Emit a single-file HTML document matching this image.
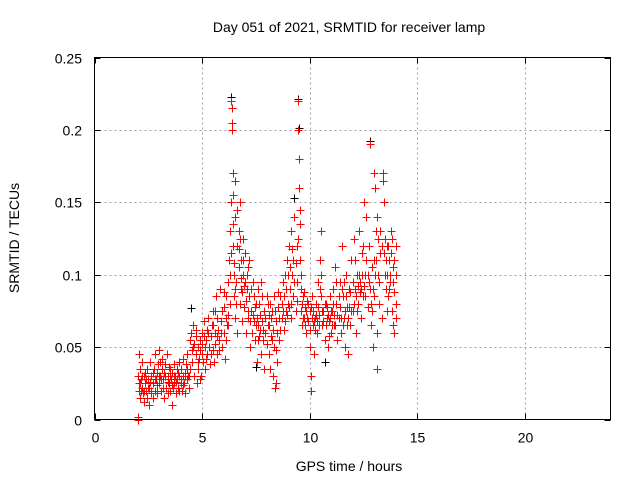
<!DOCTYPE html>
<html><head><meta charset="utf-8"><style>
body{margin:0;background:#fff;width:640px;height:480px;overflow:hidden}
svg{display:block;font-family:"Liberation Sans",sans-serif;font-size:14px}
</style></head><body>
<svg id="chart" width="640" height="480">
<text x="349" y="32" text-anchor="middle">Day 051 of 2021, SRMTID for receiver lamp</text>
<text x="349" y="471" text-anchor="middle">GPS time / hours</text>
<text transform="translate(19,238) rotate(-90)" text-anchor="middle">SRMTID / TECUs</text>
<g id="grid"></g>
<g id="ticks"></g>
<g id="black"></g>
<g id="red"></g>
<rect x="94.5" y="57.5" width="516" height="362" fill="none" stroke="#000"/>
</svg>
<script>
const xTicks=[0,5,10,15,20];
const yTicks=[0,0.05,0.1,0.15,0.2,0.25];
const yTickLabels=["0","0.05","0.1","0.15","0.2","0.25"];
const redT=[2.0,2.0,2.02,2.05,2.05,2.08,2.1,2.12,2.15,2.2,2.22,2.25,2.3,2.32,2.35,2.4,2.42,2.45,2.5,2.52,2.55,2.6,2.62,2.65,2.7,2.72,2.75,2.8,2.82,2.85,2.9,2.92,2.95,3.0,3.02,3.05,3.1,3.12,3.15,3.2,3.22,3.25,3.3,3.32,3.35,3.4,3.42,3.45,3.5,3.52,3.55,3.6,3.62,3.65,3.7,3.72,3.75,3.8,3.82,3.85,3.9,3.92,3.95,4.0,4.02,4.05,4.1,4.12,4.15,4.2,4.22,4.25,4.3,4.32,4.35,4.4,4.42,4.45,4.5,4.52,4.55,4.6,4.62,4.65,4.7,4.72,4.75,4.8,4.82,4.85,4.9,4.92,4.95,5.0,5.02,5.05,5.1,5.12,5.15,5.2,5.22,5.25,5.3,5.32,5.35,5.4,5.45,5.5,5.52,5.55,5.6,5.62,5.65,5.7,5.72,5.75,5.8,5.85,5.9,5.92,5.95,6.0,6.02,6.05,6.1,6.12,6.15,6.2,6.22,6.25,6.3,6.32,6.35,6.37,6.38,6.4,6.4,6.42,6.45,6.45,6.48,6.5,6.52,6.55,6.55,6.6,6.62,6.65,6.7,6.72,6.75,6.78,6.8,6.82,6.85,6.9,6.92,6.95,7.0,7.05,7.1,7.12,7.15,7.2,7.25,7.3,7.32,7.35,7.4,7.45,7.5,7.55,7.6,7.62,7.65,7.7,7.75,7.8,7.85,7.9,7.95,8.0,8.05,8.1,8.12,8.15,8.2,8.25,8.3,8.35,8.4,8.42,8.45,8.5,8.55,8.6,8.65,8.7,8.75,8.8,8.85,8.9,8.95,9.0,9.05,9.1,9.12,9.15,9.2,9.25,9.3,9.35,9.4,9.42,9.45,9.47,9.5,9.52,9.55,9.55,9.58,9.6,9.62,9.65,9.7,9.75,9.8,9.85,9.9,9.95,10.0,10.02,10.05,10.08,10.1,10.15,10.2,10.25,10.3,10.35,10.4,10.45,10.5,10.52,10.55,10.6,10.65,10.7,10.75,10.8,10.85,10.9,10.95,11.0,11.05,11.1,11.15,11.2,11.25,11.3,11.35,11.4,11.45,11.5,11.55,11.6,11.65,11.7,11.75,11.8,11.85,11.9,11.95,12.0,12.05,12.1,12.15,12.2,12.25,12.3,12.35,12.4,12.45,12.5,12.55,12.6,12.65,12.7,12.75,12.8,12.82,12.85,12.9,12.95,13.0,13.02,13.05,13.1,13.12,13.15,13.2,13.25,13.3,13.35,13.4,13.42,13.45,13.5,13.55,13.6,13.65,13.7,13.75,13.8,13.85,13.9,13.92,13.95,14.0,14.0];
const redV=[0.0,0.002,0.03,0.045,0.025,0.02,0.035,0.015,0.028,0.022,0.04,0.018,0.03,0.012,0.025,0.02,0.035,0.015,0.028,0.01,0.022,0.04,0.018,0.03,0.025,0.015,0.035,0.02,0.045,0.028,0.032,0.018,0.038,0.025,0.048,0.03,0.02,0.035,0.042,0.028,0.015,0.032,0.038,0.022,0.045,0.03,0.018,0.025,0.035,0.02,0.028,0.01,0.032,0.022,0.038,0.025,0.03,0.018,0.035,0.028,0.022,0.04,0.03,0.025,0.035,0.02,0.03,0.042,0.025,0.032,0.018,0.038,0.028,0.045,0.03,0.022,0.055,0.035,0.06,0.048,0.04,0.065,0.03,0.052,0.045,0.058,0.025,0.05,0.035,0.042,0.028,0.055,0.03,0.045,0.06,0.04,0.068,0.05,0.035,0.055,0.062,0.045,0.07,0.05,0.038,0.058,0.065,0.048,0.075,0.04,0.06,0.052,0.085,0.07,0.045,0.062,0.055,0.09,0.068,0.075,0.05,0.078,0.06,0.042,0.07,0.085,0.065,0.095,0.072,0.11,0.13,0.08,0.15,0.22,0.215,0.205,0.2,0.17,0.155,0.12,0.1,0.085,0.14,0.165,0.07,0.095,0.12,0.06,0.105,0.13,0.15,0.08,0.11,0.09,0.068,0.125,0.1,0.078,0.115,0.06,0.09,0.07,0.105,0.085,0.05,0.075,0.06,0.095,0.068,0.055,0.08,0.04,0.065,0.09,0.058,0.072,0.045,0.085,0.062,0.035,0.07,0.052,0.08,0.045,0.065,0.035,0.058,0.075,0.03,0.05,0.022,0.025,0.068,0.04,0.078,0.055,0.085,0.07,0.095,0.062,0.1,0.075,0.11,0.08,0.12,0.09,0.07,0.13,0.1,0.085,0.14,0.075,0.12,0.095,0.22,0.2,0.18,0.16,0.145,0.135,0.11,0.09,0.075,0.065,0.085,0.07,0.078,0.06,0.082,0.068,0.075,0.05,0.03,0.02,0.085,0.065,0.045,0.07,0.08,0.06,0.095,0.072,0.11,0.13,0.085,0.065,0.075,0.055,0.08,0.07,0.05,0.068,0.085,0.06,0.075,0.09,0.065,0.105,0.08,0.055,0.07,0.095,0.06,0.12,0.085,0.07,0.05,0.1,0.078,0.045,0.09,0.065,0.11,0.075,0.125,0.09,0.06,0.1,0.08,0.13,0.095,0.07,0.115,0.085,0.15,0.1,0.14,0.078,0.12,0.19,0.09,0.065,0.105,0.05,0.11,0.17,0.16,0.13,0.035,0.06,0.125,0.08,0.115,0.07,0.17,0.165,0.15,0.1,0.09,0.12,0.085,0.11,0.095,0.13,0.075,0.105,0.06,0.088,0.12,0.07];
const redT2=[4.6,4.7,4.8,4.9,5.0,5.1,5.2,5.3,5.4,5.5,5.6,5.7,5.8,5.9,6.0,6.1,6.2,6.3,6.35,6.45,6.5,6.55,6.6,6.65,6.7,6.75,6.8,6.85,6.9,6.95,7.0,7.05,7.1,7.15,7.2,7.25,7.3,7.35,7.4,7.45,7.5,7.55,7.6,7.65,7.7,7.75,7.8,7.85,7.9,7.95,8.0,8.05,8.1,8.15,8.2,8.25,8.3,8.35,8.4,8.45,8.5,8.55,8.6,8.65,8.7,8.75,8.8,8.85,8.9,8.95,9.0,9.05,9.1,9.15,9.2,9.25,9.3,9.35,9.4,9.45,9.6,9.65,9.7,9.75,9.8,9.85,9.9,9.95,10.0,10.05,10.1,10.15,10.2,10.25,10.3,10.35,10.4,10.45,10.5,10.55,10.6,10.65,10.7,10.75,10.8,10.85,10.9,10.95,11.0,11.05,11.1,11.15,11.2,11.25,11.3,11.35,11.4,11.45,11.5,11.55,11.6,11.65,11.7,11.75,11.8,11.85,11.9,11.95,12.0,12.05,12.1,12.15,12.2,12.25,12.3,12.35,12.4,12.45,12.5,12.55,12.6,12.65,12.7,12.75,12.85,12.9,12.95,13.0,13.05,13.1,13.15,13.2,13.25,13.3,13.35,13.45,13.5,13.55,13.6,13.65,13.7,13.75,13.8,13.85,13.9,13.95,14.0,14.0,13.9,13.6,2.1,2.2,2.3,2.4,2.5,2.6,2.7,2.8,2.9,3.0,3.1,3.2,3.3,3.4,3.5,3.6,3.7,3.8,3.9,4.0,4.1,4.2,4.3,4.4,2.15,2.35,2.65,3.05,3.45,3.95];
const redV2=[0.05,0.062,0.04,0.048,0.052,0.058,0.042,0.06,0.045,0.065,0.075,0.058,0.048,0.06,0.088,0.055,0.065,0.1,0.115,0.135,0.108,0.09,0.08,0.145,0.118,0.125,0.098,0.088,0.11,0.092,0.095,0.082,0.1,0.075,0.11,0.068,0.09,0.072,0.085,0.078,0.065,0.07,0.055,0.08,0.062,0.095,0.068,0.055,0.075,0.06,0.085,0.065,0.072,0.08,0.07,0.055,0.062,0.085,0.075,0.048,0.06,0.088,0.07,0.062,0.08,0.075,0.085,0.068,0.09,0.072,0.1,0.078,0.105,0.08,0.118,0.11,0.095,0.108,0.082,0.125,0.1,0.08,0.07,0.088,0.065,0.075,0.07,0.08,0.062,0.078,0.07,0.075,0.068,0.062,0.072,0.068,0.078,0.065,0.09,0.1,0.075,0.068,0.08,0.065,0.078,0.072,0.058,0.07,0.075,0.065,0.08,0.072,0.065,0.095,0.072,0.085,0.078,0.07,0.09,0.065,0.095,0.075,0.085,0.065,0.07,0.078,0.088,0.075,0.095,0.08,0.11,0.085,0.075,0.092,0.1,0.088,0.09,0.1,0.12,0.092,0.085,0.11,0.1,0.095,0.08,0.075,0.09,0.085,0.1,0.11,0.14,0.1,0.095,0.13,0.12,0.115,0.125,0.11,0.1,0.12,0.09,0.1,0.115,0.125,0.095,0.11,0.1,0.08,0.065,0.075,0.025,0.03,0.02,0.028,0.022,0.026,0.032,0.028,0.024,0.03,0.028,0.022,0.03,0.026,0.03,0.024,0.03,0.026,0.032,0.028,0.024,0.03,0.035,0.03,0.02,0.032,0.02,0.04,0.036,0.02];
const blackT=[2.0,3.0,4.5,6.37,9.45,9.5,12.8,9.26,7.5,10.7];
const blackV=[0.03,0.048,0.077,0.223,0.221,0.201,0.192,0.153,0.036,0.04];

const L=94.5,R=610.5,T=57.5,B=419.5,XMAX=24,YMAX=0.25;
const xs=t=>L+(R-L)*t/XMAX, ys=v=>B-(B-T)*v/YMAX;
const NS="http://www.w3.org/2000/svg";
const grid=document.getElementById('grid'), ticks=document.getElementById('ticks');
function el(tag,attrs,parent){const e=document.createElementNS(NS,tag);for(const k in attrs)e.setAttribute(k,attrs[k]);parent.appendChild(e);return e;}
xTicks.forEach((t,i)=>{
  const x=Math.round(xs(t))+0.5;
  if(t>0){const g=el('line',{x1:x,x2:x,y1:T,y2:B,stroke:'#a0a0a0','stroke-dasharray':'2,3'},grid);
  
  }
  el('line',{x1:x,x2:x,y1:B,y2:B-6,stroke:'#000'},ticks);
  el('line',{x1:x,x2:x,y1:T,y2:T+6,stroke:'#000'},ticks);
  const tx=el('text',{x:x,y:B+23,'text-anchor':'middle'},ticks);tx.textContent=String(t);
  
  
});
yTicks.forEach((v,i)=>{
  const y=Math.round(ys(v))+0.5;
  if(v>0&&v<YMAX){const g=el('line',{x1:L,x2:R,y1:y,y2:y,stroke:'#a0a0a0','stroke-dasharray':'2,3'},grid);
  
  }
  el('line',{x1:L,x2:L+6,y1:y,y2:y,stroke:'#000'},ticks);
  el('line',{x1:R,x2:R-6,y1:y,y2:y,stroke:'#000'},ticks);
  const tx=el('text',{x:82,y:y+5,'text-anchor':'end'},ticks);tx.textContent=yTickLabels[i];
  
  
});
function plot(T_,V_,color,gid,name){
  const g=document.getElementById(gid);
  let d='';
  for(let i=0;i<T_.length;i++){
    const x=Math.round(xs(T_[i]))+0.5,y=Math.round(ys(V_[i]))+0.5;
    d+=`M${x-4},${y}h8M${x},${y-4}v8`;
  }
  const p=el('path',{d:d,stroke:color,'stroke-width':1.2,fill:'none','shape-rendering':'crispEdges'},g);
  
  
}
plot(blackT,blackV,'#000','black','black-points');
plot(redT,redV,'#ff0000','red','red-points');
plot(redT2,redV2,'#ff0000','red','red-points-extra');
</script>
</body></html>
